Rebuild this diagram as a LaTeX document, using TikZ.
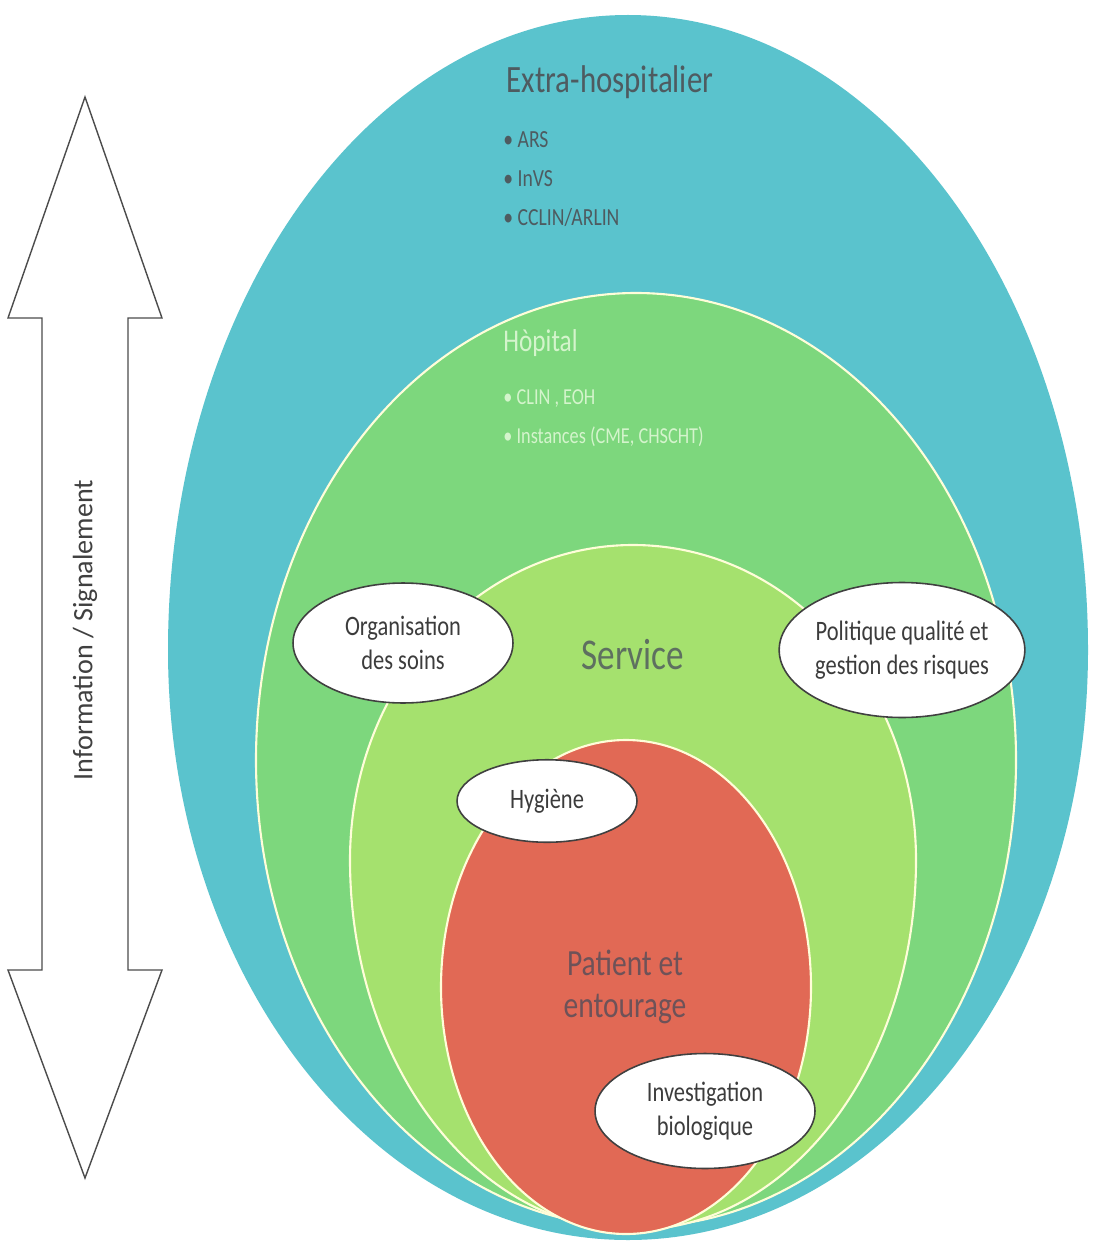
\documentclass[tikz,border=0pt]{standalone}
\usepackage{fontspec}
\setmainfont{Carlito}[FakeStretch=0.8]
\newfontfamily\arrowfont{Carlito}
\usepackage{tikz}
\usetikzlibrary{shapes.geometric}

\definecolor{extcol}{HTML}{5AC3CD}
\definecolor{hopcol}{HTML}{7DD77D}
\definecolor{sercol}{HTML}{A5E16E}
\definecolor{patcol}{HTML}{E16955}
\definecolor{inkgray}{HTML}{3C3C3C}
\definecolor{palegreen}{HTML}{D4F4CC}
\definecolor{extink}{HTML}{4E5B60}
\definecolor{serink}{HTML}{5E7060}
\definecolor{patink}{HTML}{6E5258}

\begin{document}
\begin{tikzpicture}[
    x=0.02cm, y=-0.02cm,
    zone/.style={draw=white!85!yellow, line width=1.2pt},
    tag/.style={ellipse, draw=black!75, line width=0.9pt, fill=white, inner sep=0pt,
      align=center, text=inkgray, font=\fontsize{16}{19}\selectfont},
    lst/.style={anchor=west, align=left, inner sep=0pt}
  ]
    \useasboundingbox[fill=white] (0,0) rectangle (1107,1243);

    % nested zones, outermost first (lower half, then upper half)
    \fill[extcol] (1088,650) arc[start angle=0, end angle=180, x radius=460, y radius=590]
      arc[start angle=180, end angle=360, x radius=460, y radius=635] -- cycle;
    \filldraw[zone, fill=hopcol] (636,760) ellipse [x radius=380, y radius=467];
    \filldraw[zone, fill=sercol] (916,860) arc[start angle=0, end angle=180, x radius=283, y radius=370]
      arc[start angle=180, end angle=360, x radius=283, y radius=315] -- cycle;
    \filldraw[zone, fill=patcol] (626,987) ellipse [x radius=185, y radius=247];

    % zone titles
    \node[text=extink, font=\fontsize{22}{26}\selectfont] (ext) at (610,82) {Extra-hospitalier};
    \node[lst, text=extink, font=\fontsize{14}{22}\selectfont] (extlist) at (503,179)
      {• ARS\\• InVS\\• CCLIN/ARLIN};
    \node[lst, text=palegreen, font=\fontsize{18}{22}\selectfont] (hop) at (503,343) {Hòpital};
    \node[lst, text=palegreen, font=\fontsize{13}{22}\selectfont] (hoplist) at (503,418)
      {• CLIN , EOH\\• Instances (CME, CHSCHT)};
    \node[text=serink, font=\fontsize{25}{30}\selectfont] (service) at (633,655) {Service};
    \node[align=center, text=patink, font=\fontsize{21}{24}\selectfont] (patient) at (625,987)
      {Patient et\\entourage};

    % white labels
    \node[tag, minimum width=4.4cm, minimum height=2.4cm] (orga) at (403,643) {Organisation\\des soins};
    \node[tag, minimum width=4.75cm, minimum height=2.7cm] (politique) at (902,650)
      {Politique qualité et\\gestion des risques};
    \node[tag, minimum width=3.6cm, minimum height=1.65cm] (hygiene) at (547,801) {Hygiène};
    \node[tag, minimum width=4.4cm, minimum height=2.3cm] (bio) at (705,1111) {Investigation\\biologique};

    % double arrow
    \draw[black!70, line width=0.8pt, fill=white]
      (85,97) -- (162,318) -- (128,318) -- (128,970) -- (162,970) -- (85,1178)
      -- (8,970) -- (42,970) -- (42,318) -- (8,318) -- cycle;
    \node[rotate=90, text=black!75, font=\arrowfont\fontsize{16}{19}\selectfont] (info) at (85,630)
      {Information / Signalement};
\end{tikzpicture}
\end{document}
